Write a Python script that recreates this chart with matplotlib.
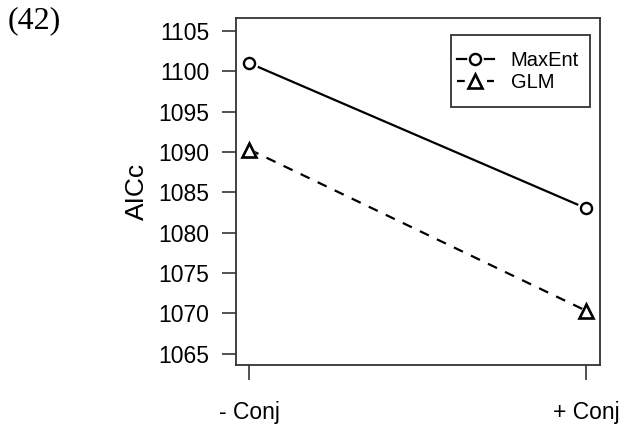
import matplotlib
matplotlib.use('Agg')
import matplotlib.pyplot as plt
from matplotlib.lines import Line2D
from matplotlib.patches import Rectangle
from matplotlib.legend_handler import HandlerTuple

# data
groups = ['- Conj', '+ Conj']
xpos = [1, 2]
maxent = [1101.0, 1083.0]
glm = [1090.3, 1070.3]
yticks = [1065, 1070, 1075, 1080, 1085, 1090, 1095, 1100, 1105]

plt.rcParams['font.family'] = ['Liberation Sans', 'DejaVu Sans']

fig = plt.figure(figsize=(6.22, 4.25), dpi=100)
ax = fig.add_axes([0.3794, 0.1412, 0.5852, 0.8164])

# R type="b" look: line, white gap, open marker
l1, = ax.plot(xpos, maxent, color='black', lw=1.6, zorder=2)
w1, = ax.plot(xpos, maxent, ls='none', marker='o', ms=13, mfc='white', mec='none', zorder=3)
m1, = ax.plot(xpos, maxent, ls='none', marker='o', ms=8, mfc='white', mec='black', mew=1.7, zorder=4)

l2, = ax.plot(xpos, glm, color='black', lw=1.6, ls=(0, (4.5, 4)), zorder=2)
w2, = ax.plot(xpos, glm, ls='none', marker='^', ms=15, mfc='white', mec='none', zorder=3)
m2, = ax.plot(xpos, glm, ls='none', marker='^', ms=10, mfc='white', mec='black', mew=1.9, zorder=4)

ax.set_xlim(0.96, 2.04)
ax.set_ylim(1063.6, 1106.6)
ax.set_xticks(xpos)
ax.set_xticklabels(groups)
ax.set_yticks(yticks)
ax.set_ylabel('AICc', fontsize=19, labelpad=7)

for s in ax.spines.values():
    s.set_color('#333333')
    s.set_linewidth(1.3)
ax.tick_params(axis='y', direction='out', length=10, width=1.2, pad=9, labelsize=16.5, color='#333333')
ax.tick_params(axis='x', direction='out', length=11, width=1.2, pad=15, labelsize=16.5, color='#333333')

# legend box drawn by hand (R legend has more vertical than horizontal padding)
ax.add_patch(Rectangle((0.59, 0.744), 0.383, 0.207, transform=ax.transAxes, fill=False,
                       edgecolor='#333333', lw=1.3, zorder=5))
h1 = Line2D([], [], color='black', lw=1.6)
h2 = Line2D([], [], color='black', lw=1.6, ls=(0, (3.5, 10)))
w1s = Line2D([], [], ls='none', marker='o', ms=12, mfc='white', mec='none')
w2s = Line2D([], [], ls='none', marker='^', ms=14, mfc='white', mec='none')
leg = ax.legend([(h1, w1s, m1), (h2, w2s, m2)], ['MaxEnt', 'GLM'],
                handler_map={tuple: HandlerTuple(ndivide=1, pad=0)},
                loc='center left', bbox_to_anchor=(0.608, 0.846), borderaxespad=0,
                fontsize=14.5, frameon=False, borderpad=0, labelspacing=0.15,
                handlelength=1.8, handletextpad=0.85, numpoints=1)

fig.text(8 / 622, 1 - 6 / 425, '(42)', family=['Liberation Serif', 'DejaVu Serif'],
         fontsize=23, ha='left', va='top')

fig.savefig('out.png', dpi=100)
